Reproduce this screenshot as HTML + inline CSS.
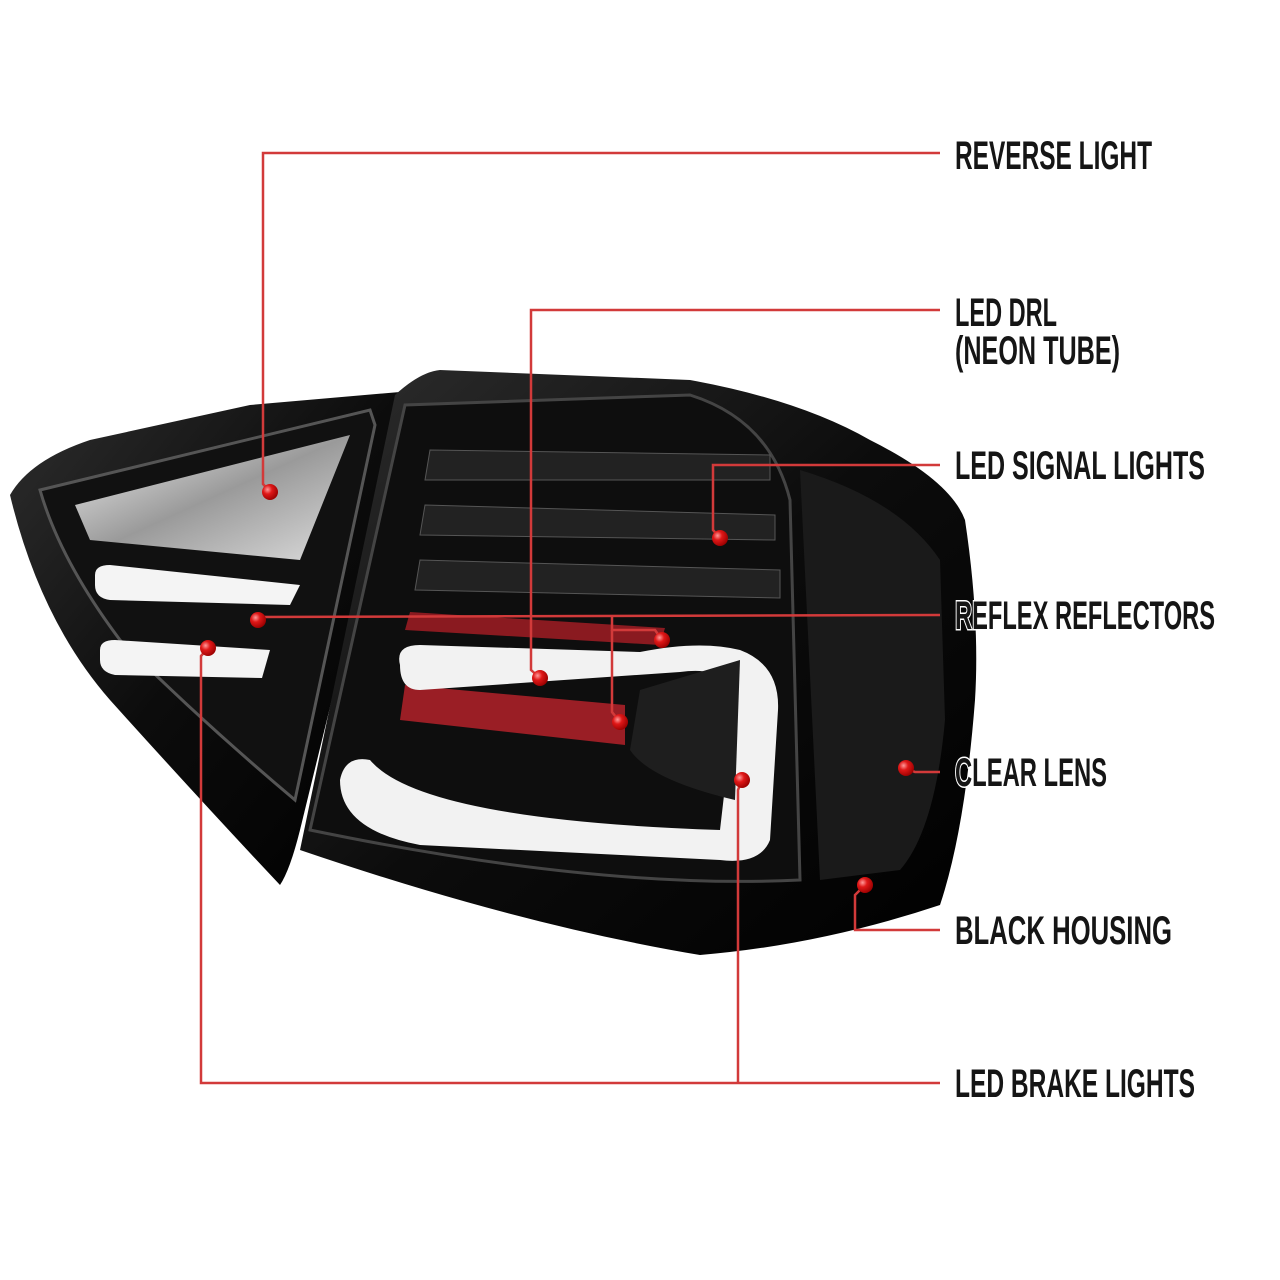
<!DOCTYPE html>
<html><head><meta charset="utf-8"><style>
html,body{margin:0;padding:0;background:#fff;}
svg{display:block;}
text{font-family:"Liberation Sans",sans-serif;font-size:40px;font-weight:bold;fill:#151515;stroke:#fff;stroke-width:3px;paint-order:stroke;}
</style></head><body>
<svg width="1280" height="1280" viewBox="0 0 1280 1280" xmlns="http://www.w3.org/2000/svg">
<defs>
<linearGradient id="hous" x1="0" y1="0" x2="1" y2="1">
<stop offset="0" stop-color="#2e2e2e"/><stop offset="0.5" stop-color="#0c0c0c"/><stop offset="1" stop-color="#000"/>
</linearGradient>
<linearGradient id="chrome" x1="0" y1="0" x2="1" y2="1">
<stop offset="0" stop-color="#f0f0f0"/><stop offset="0.5" stop-color="#9a9a9a"/><stop offset="1" stop-color="#dcdcdc"/>
</linearGradient>
<radialGradient id="dot" cx="0.35" cy="0.35" r="0.7">
<stop offset="0" stop-color="#ff9a9a"/><stop offset="0.4" stop-color="#e01818"/><stop offset="1" stop-color="#900"/>
</radialGradient>
</defs>
<path d="M10,495 Q30,460 90,440 L250,405 L400,392 L405,400 L300,830 Q290,870 280,885 Q200,800 110,700 Q40,620 10,495 Z" fill="url(#hous)"/>
<path d="M40,490 L370,410 L375,425 L295,800 Q200,720 120,640 Q60,560 40,490 Z" fill="#111" stroke="#555" stroke-width="3"/>
<path d="M75,505 L350,435 L300,560 L90,540 Z" fill="url(#chrome)"/>
<path d="M95,575 Q95,565 110,565 L300,585 L290,605 L110,600 Q95,598 95,585 Z" fill="#f4f4f4"/>
<path d="M100,650 Q100,640 115,640 L270,650 L262,678 L115,675 Q100,672 100,660 Z" fill="#f4f4f4"/>
<path d="M300,850 L395,395 Q420,372 440,370 L690,380 Q800,400 870,440 Q950,480 965,520 Q980,620 975,700 Q965,830 940,905 Q820,945 700,955 Q520,925 300,850 Z" fill="url(#hous)"/>
<path d="M310,830 L405,405 L690,395 Q770,420 790,500 L800,880 Q600,890 310,830 Z" fill="#0e0e0e" stroke="#444" stroke-width="3"/>
<path d="M800,470 Q900,500 940,560 L945,720 Q935,830 900,870 L820,880 Z" fill="#1a1a1a"/>
<g fill="#222" stroke="#555" stroke-width="1">
<path d="M430,450 L770,455 L770,480 L425,480 Z"/>
<path d="M425,505 L775,515 L775,540 L420,535 Z"/>
<path d="M420,560 L780,570 L780,598 L415,590 Z"/>
</g>
<path d="M410,612 L665,628 L660,645 L405,630 Z" fill="#8a1a20"/>
<path d="M405,685 L625,705 L625,745 L400,720 Z" fill="#9a1e25"/>
<path d="M400,665 Q395,645 420,645 L640,652 Q700,640 740,650 Q780,665 778,710 L770,840 Q760,865 720,860 L420,845 Q340,830 340,780 Q345,755 370,760 Q420,820 720,830 L735,700 Q730,665 680,672 L420,690 Q400,690 400,665 Z" fill="#f2f2f2"/>
<path d="M640,690 L740,660 L735,800 Q650,780 630,750 Z" fill="#1e1e1e"/>
<g fill="none" stroke="#d23a3a" stroke-width="2.5">
<path d="M270,492 L263,484 L263,153 L940,153"/>
<path d="M540,678 L531,670 L531,310 L940,310"/>
<path d="M720,538 L713,530 L713,465 L940,465"/>
<path d="M258,617 L940,615"/>
<path d="M662,640 L655,630 L612,630 L612,615"/>
<path d="M620,722 L612,712 L612,630"/>
<path d="M906,768 L915,772 L940,772"/>
<path d="M865,885 L855,895 L855,930 L940,930"/>
<path d="M208,648 L201,656 L201,1083 L940,1083"/>
<path d="M742,780 L738,790 L738,1083"/>
</g>
<g fill="url(#dot)">
<circle cx="270" cy="492" r="8"/><circle cx="540" cy="678" r="8"/><circle cx="720" cy="538" r="8"/>
<circle cx="258" cy="620" r="8"/><circle cx="662" cy="640" r="8"/><circle cx="620" cy="722" r="8"/>
<circle cx="906" cy="768" r="8"/><circle cx="865" cy="885" r="8"/><circle cx="208" cy="648" r="8"/>
<circle cx="742" cy="780" r="8"/>
</g>
<text x="955" y="169" textLength="197" lengthAdjust="spacingAndGlyphs">REVERSE LIGHT</text>
<text x="955" y="326" textLength="102" lengthAdjust="spacingAndGlyphs">LED DRL</text>
<text x="955" y="364" textLength="165" lengthAdjust="spacingAndGlyphs">(NEON TUBE)</text>
<text x="955" y="479" textLength="250" lengthAdjust="spacingAndGlyphs">LED SIGNAL LIGHTS</text>
<text x="955" y="629" textLength="260" lengthAdjust="spacingAndGlyphs">REFLEX REFLECTORS</text>
<text x="955" y="786" textLength="152" lengthAdjust="spacingAndGlyphs">CLEAR LENS</text>
<text x="955" y="944" textLength="217" lengthAdjust="spacingAndGlyphs">BLACK HOUSING</text>
<text x="955" y="1097" textLength="240" lengthAdjust="spacingAndGlyphs">LED BRAKE LIGHTS</text>
</svg>
</body></html>
